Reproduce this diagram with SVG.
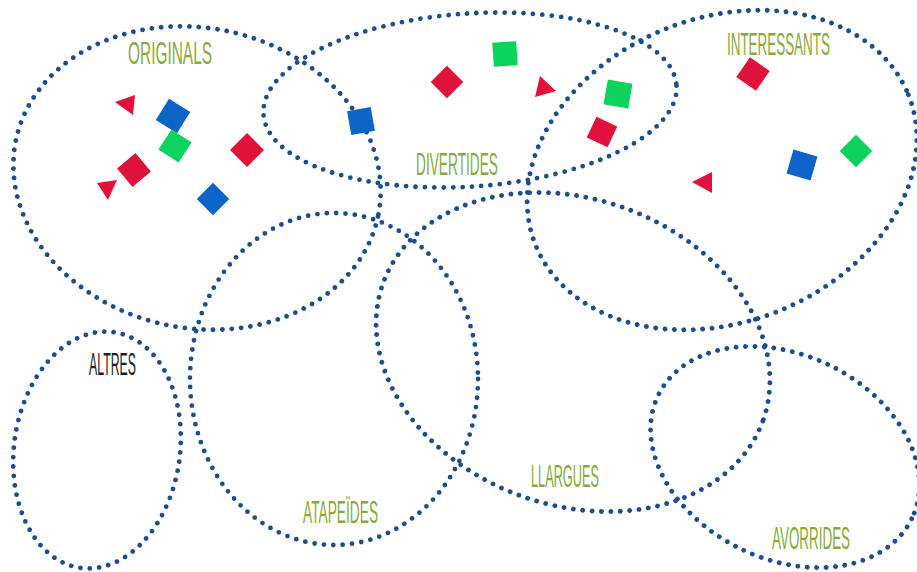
<svg xmlns="http://www.w3.org/2000/svg" width="917" height="572" viewBox="0 0 917 572">
<style>
.set{fill:none;stroke:#1c4d8d;stroke-width:4.8;stroke-linecap:round;stroke-dasharray:0 9.4}
.lbl{font-family:"Liberation Sans","DejaVu Sans",sans-serif;font-size:32px;fill:#8aa83c}
.blk{fill:#1e1e1e}
.r{fill:#e0123c}
.b{fill:#0b64c6}
.g{fill:#0bd35c}
</style>
<rect width="917" height="572" fill="#ffffff"/>
<g id="sets">
<g id="originals">
<ellipse class="set" cx="197" cy="178" rx="185" ry="150" transform="rotate(12 197 178)"/>
<text class="lbl" transform="translate(128 64) scale(0.482 1)" textLength="174.3" lengthAdjust="spacingAndGlyphs">ORIGINALS</text>
</g>
<g id="divertides">
<ellipse class="set" cx="470" cy="100" rx="207" ry="86.5" transform="rotate(-4 470 100)"/>
<text class="lbl" transform="translate(416 175) scale(0.427 1)" textLength="192" lengthAdjust="spacingAndGlyphs">DIVERTIDES</text>
</g>
<g id="interessants">
<ellipse class="set" cx="722" cy="170" rx="201" ry="152" transform="rotate(-22 722 170)"/>
<text class="lbl" transform="translate(727 55) scale(0.421 1)" textLength="244.4" lengthAdjust="spacingAndGlyphs">INTERESSANTS</text>
</g>
<g id="altres">
<ellipse class="set" cx="97" cy="450" rx="83" ry="119" transform="rotate(8 97 450)"/>
<text class="lbl blk" transform="translate(89 375) scale(0.378 1)" textLength="124.5" lengthAdjust="spacingAndGlyphs">ALTRES</text>
</g>
<g id="atapeides">
<ellipse class="set" cx="334" cy="379" rx="144" ry="166"/>
<text class="lbl" transform="translate(303 523) scale(0.418 1)" textLength="179.6" lengthAdjust="spacingAndGlyphs">ATAPEÏDES</text>
</g>
<g id="llargues">
<ellipse class="set" cx="573" cy="352" rx="202" ry="153" transform="rotate(20 573 352)"/>
<text class="lbl" transform="translate(531 487) scale(0.398 1)" textLength="170.7" lengthAdjust="spacingAndGlyphs">LLARGUES</text>
</g>
<g id="avorrides">
<ellipse class="set" cx="785" cy="457" rx="141" ry="102" transform="rotate(26 785 457)"/>
<text class="lbl" transform="translate(772 549) scale(0.414 1)" textLength="188.5" lengthAdjust="spacingAndGlyphs">AVORRIDES</text>
</g>
</g>
<g id="connectors"></g>
<g id="items">
<polygon class="r" points="115,102 135,95 133,115"/>
<rect class="b" x="-12.5" y="-12.5" width="25" height="25" transform="translate(173,116) rotate(32)"/>
<rect class="g" x="-12" y="-12" width="24" height="24" transform="translate(175,146) rotate(33)"/>
<rect class="r" x="-12" y="-12" width="24" height="24" transform="translate(134,170) rotate(50)"/>
<polygon class="r" points="97,183 117,180 108,200"/>
<rect class="r" x="-12" y="-12" width="24" height="24" transform="translate(247,150) rotate(45)"/>
<rect class="b" x="-11.5" y="-11.5" width="23" height="23" transform="translate(213,199) rotate(45)"/>
<rect class="b" x="-12" y="-12" width="24" height="24" transform="translate(361,121) rotate(-10)"/>
<rect class="r" x="-11.5" y="-11.5" width="23" height="23" transform="translate(447,82) rotate(45)"/>
<rect class="g" x="-12" y="-12" width="24" height="24" transform="translate(505,54) rotate(-4)"/>
<polygon class="r" points="535,97 540,76 556,91"/>
<rect class="g" x="-12.5" y="-12.5" width="25" height="25" transform="translate(618,94) rotate(10)"/>
<rect class="r" x="-11.5" y="-11.5" width="23" height="23" transform="translate(602,132) rotate(25)"/>
<rect class="r" x="-12" y="-12" width="24" height="24" transform="translate(753,74) rotate(35)"/>
<polygon class="r" points="692,182 712,172 712,193"/>
<rect class="b" x="-12.5" y="-12.5" width="25" height="25" transform="translate(802,165) rotate(16)"/>
<rect class="g" x="-11.5" y="-11.5" width="23" height="23" transform="translate(856,151) rotate(45)"/>
</g>
</svg>
